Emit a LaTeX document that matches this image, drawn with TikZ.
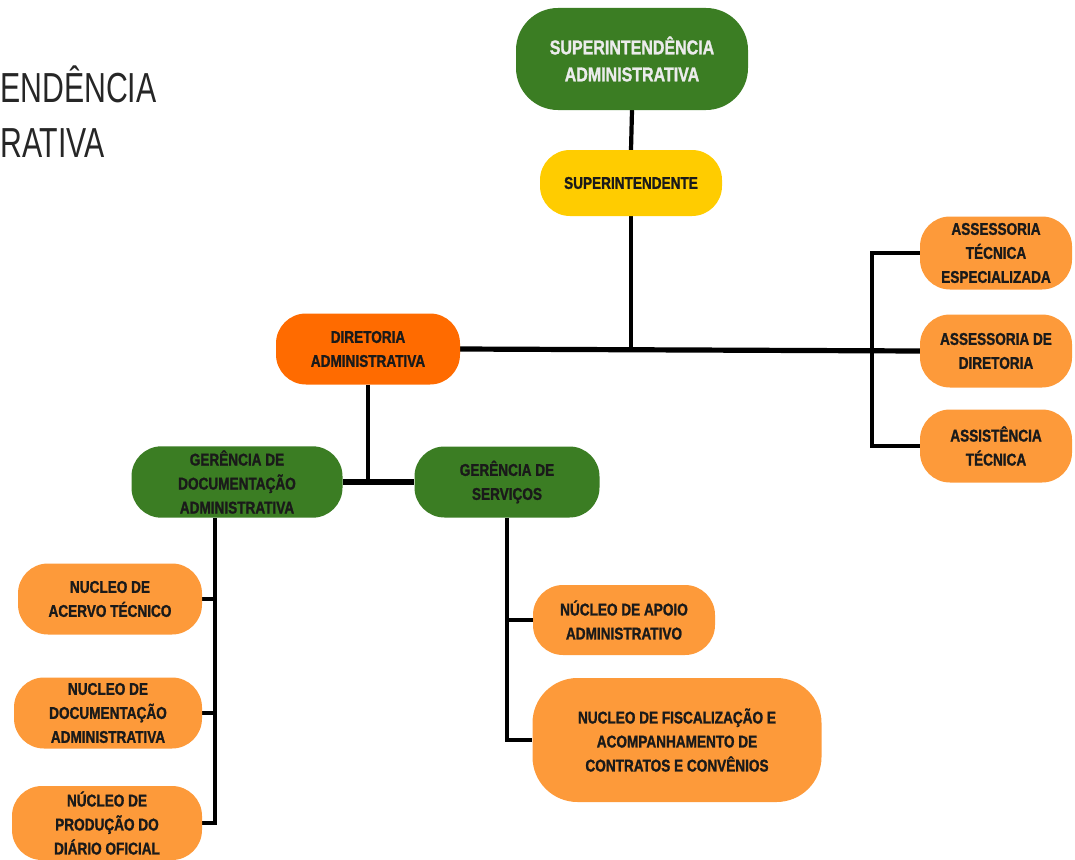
\documentclass[tikz,border=0pt]{standalone}
\usepackage{fontspec}
\setmainfont{Liberation Sans}[FakeStretch=0.8, BoldFeatures={FakeBold=1.3}]
\newfontfamily\titlefont{Liberation Sans}[FakeStretch=0.72]
\usepackage{xcolor}
\usepackage{tikz}
\usetikzlibrary{positioning, calc, backgrounds}

\definecolor{orgGreen}{HTML}{3B7D23}
\definecolor{orgYellow}{HTML}{FFCC00}
\definecolor{orgOrange}{HTML}{FF6B00}
\definecolor{orgLight}{HTML}{FD9A3A}
\definecolor{orgText}{HTML}{1A1A1A}

\begin{document}
\begin{tikzpicture}[
    x=1pt, y=-1pt,
    font=\fontsize{17}{24}\selectfont\bfseries,
    box/.style={rounded corners=30pt, align=center, inner sep=4pt, text=orgText, minimum width=184pt, minimum height=71pt},
    head/.style={box, fill=orgGreen, text=white!92!black, minimum width=232pt, minimum height=102pt, rounded corners=42pt, font=\fontsize{20}{27}\selectfont\bfseries},
    chief/.style={box, fill=orgYellow, minimum width=182pt, minimum height=66pt},
    board/.style={box, fill=orgOrange},
    manager/.style={box, fill=orgGreen},
    unit/.style={box, fill=orgLight},
    advisor/.style={unit, minimum width=152pt, minimum height=73pt},
    line/.style={draw=black, line width=4.2pt},
    mainline/.style={draw=black, line width=5.2pt}
]
\useasboundingbox (0,0) rectangle (1075,859);

% Title (cut at the left edge)
\node[anchor=north west, align=left, inner sep=0pt, text=black!85,
      font=\titlefont\fontsize{42}{55}\selectfont] (title) at (0,66) {ENDÊNCIA\\RATIVA};

% Nodes
\node[head] (sa) at (632,59) {SUPERINTENDÊNCIA\\ADMINISTRATIVA};
\node[chief] (si) at (631,183) {SUPERINTENDENTE};
\node[board] (dir) at (368,349) {DIRETORIA\\ADMINISTRATIVA};

% Assessorias
\node[advisor] (ate) at (996,253) {ASSESSORIA\\TÉCNICA\\ESPECIALIZADA};
\node[advisor] (ad) at (996,351) {ASSESSORIA DE\\DIRETORIA};
\node[advisor] (ast) at (996,446) {ASSISTÊNCIA\\TÉCNICA};

% Gerencias
\node[manager, minimum width=211pt] (gda) at (237,482) {GERÊNCIA DE\\DOCUMENTAÇÃO\\ADMINISTRATIVA};
\node[manager, minimum width=185pt] (gs) at (507,482) {GERÊNCIA DE\\SERVIÇOS};

% Nucleos
\node[unit] (nat) at (110,599) {NUCLEO DE\\ACERVO TÉCNICO};
\node[unit, minimum width=188pt] (ndo) at (108,713) {NUCLEO DE\\DOCUMENTAÇÃO\\ADMINISTRATIVA};
\node[unit, minimum width=190pt, minimum height=74pt] (npd) at (107,823) {NÚCLEO DE\\PRODUÇÃO DO\\DIÁRIO OFICIAL};
\node[unit, minimum width=182pt, minimum height=70pt] (nap) at (624,620) {NÚCLEO DE APOIO\\ADMINISTRATIVO};
\node[unit, minimum width=289pt, minimum height=124pt, rounded corners=45pt] (nfa) at (677,740) {NUCLEO DE FISCALIZAÇÃO E\\ACOMPANHAMENTO DE\\CONTRATOS E CONVÊNIOS};

\coordinate (gdaspine) at (215,823);

% Lines
\begin{scope}[on background layer]
\draw[line] (sa.south) -- (si.north);
\draw[line] (si.south) -- (si.south |- dir.east);
\draw[mainline] (dir.east) -- (ad.west);
\draw[line] (ate.west) -- ++(-48,0) |- (ast.west);
\draw[line] (dir.south) -- (dir.south |- gda.east);
\draw[mainline] (gda.east) -- (gs.west);
\draw[line] (gda.south -| gdaspine) -- (gdaspine) -- (npd.east);
\draw[line] (nat.east) -- (nat.east -| gdaspine);
\draw[line] (ndo.east) -- (ndo.east -| gdaspine);
\draw[line] (gs.south) |- (nfa.west);
\draw[line] (nap.west) -- (nap.west -| gs.south);
\end{scope}

\end{tikzpicture}
\end{document}
